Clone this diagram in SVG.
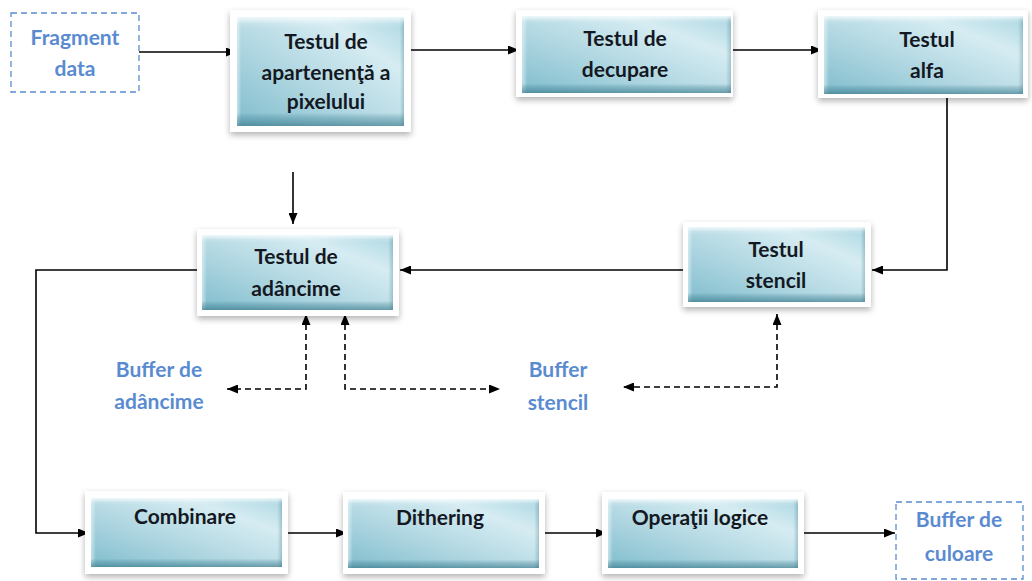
<svg xmlns="http://www.w3.org/2000/svg" width="1032" height="581" viewBox="0 0 1032 581">
  <defs>
    <linearGradient id="fill" x1="0" y1="1" x2="1" y2="0">
      <stop offset="0" stop-color="#80bdcd"/>
      <stop offset="0.45" stop-color="#b6dae4"/>
      <stop offset="0.75" stop-color="#d6ecf2"/>
      <stop offset="1" stop-color="#acd7e2"/>
    </linearGradient>
    <linearGradient id="bevel" x1="0" y1="0" x2="0" y2="1">
      <stop offset="0" stop-color="#f2fbfd" stop-opacity="0.9"/>
      <stop offset="0.06" stop-color="#ffffff" stop-opacity="0.15"/>
      <stop offset="0.1" stop-color="#ffffff" stop-opacity="0"/>
      <stop offset="0.88" stop-color="#2d6e80" stop-opacity="0"/>
      <stop offset="0.93" stop-color="#3f8093" stop-opacity="0.35"/>
      <stop offset="1" stop-color="#2f6f80" stop-opacity="0.6"/>
    </linearGradient>
    <linearGradient id="sides" x1="0" y1="0" x2="1" y2="0">
      <stop offset="0" stop-color="#e8f6fa" stop-opacity="0.6"/>
      <stop offset="0.025" stop-color="#ffffff" stop-opacity="0"/>
      <stop offset="0.975" stop-color="#2f6f80" stop-opacity="0"/>
      <stop offset="1" stop-color="#2f6f80" stop-opacity="0.3"/>
    </linearGradient>
    <filter id="shadow" x="-10%" y="-10%" width="120%" height="130%">
      <feDropShadow dx="0" dy="3" stdDeviation="3" flood-color="#000" flood-opacity="0.3"/>
    </filter>
    <marker id="arrow" viewBox="0 0 11 9" refX="11" refY="4.5" markerWidth="11" markerHeight="9" markerUnits="userSpaceOnUse" orient="auto-start-reverse">
      <path d="M0,0 L11,4.5 L0,9 z" fill="#000"/>
    </marker>
  </defs>
  <style>
    .frame { fill: #ffffff; filter: url(#shadow); }
    .face { fill: url(#fill); }
    .bev { fill: url(#bevel); }
    .side { fill: url(#sides); }
    .label { font-family: Lato, "Liberation Sans", sans-serif; font-weight: bold; font-size: 21px; fill: #141822; text-anchor: middle; }
    .buf { font-family: Lato, "Liberation Sans", sans-serif; font-weight: bold; font-size: 21px; fill: #5a8bd1; text-anchor: middle; }
    .ext { fill: #ffffff; stroke: #5a8bd1; stroke-width: 1.3; stroke-dasharray: 6 4; }
    .flow { fill: none; stroke: #000; stroke-width: 1.6; }
    .dash { fill: none; stroke: #000; stroke-width: 1.6; stroke-dasharray: 6 4; }
  </style>

  <!-- connectors -->
  <g id="connectors">
    <path class="flow" d="M139,52 H237" marker-end="url(#arrow)"/>
    <path class="flow" d="M411,50 H519" marker-end="url(#arrow)"/>
    <path class="flow" d="M733,50 H822" marker-end="url(#arrow)"/>
    <path class="flow" d="M947,98 V270 H872" marker-end="url(#arrow)"/>
    <path class="flow" d="M683,270 H400" marker-end="url(#arrow)"/>
    <path class="flow" d="M293,172 V224" marker-end="url(#arrow)"/>
    <path class="flow" d="M199,270 H36 V533 H89" marker-end="url(#arrow)"/>
    <path class="flow" d="M288,533 H347" marker-end="url(#arrow)"/>
    <path class="flow" d="M545,533 H607" marker-end="url(#arrow)"/>
    <path class="flow" d="M804,533 H895" marker-end="url(#arrow)"/>
    <path class="dash" d="M306,314 V389 H227" marker-start="url(#arrow)" marker-end="url(#arrow)"/>
    <path class="dash" d="M345,314 V389 H500" marker-start="url(#arrow)" marker-end="url(#arrow)"/>
    <path class="dash" d="M777,314 V387 H623" marker-start="url(#arrow)" marker-end="url(#arrow)"/>
  </g>

  <!-- external data -->
  <g id="fragment-data">
    <rect class="ext" x="11" y="13" width="128" height="79"/>
    <text class="buf" x="75" y="45">Fragment</text>
    <text class="buf" x="75" y="76">data</text>
  </g>

  <g id="buffer-culoare">
    <rect class="ext" x="896" y="502" width="127" height="77"/>
    <text class="buf" x="959" y="527">Buffer de</text>
    <text class="buf" x="959" y="561">culoare</text>
  </g>

  <g id="buffer-adancime">
    <text class="buf" x="159" y="377">Buffer de</text>
    <text class="buf" x="159" y="409">adâncime</text>
  </g>

  <g id="buffer-stencil">
    <text class="buf" x="558" y="377">Buffer</text>
    <text class="buf" x="558" y="410">stencil</text>
  </g>

  <!-- processing stages -->
  <g id="test-apartenenta">
    <rect class="frame" x="230" y="10" width="181" height="122"/>
    <rect class="face" x="237" y="17" width="167" height="109"/>
    <rect class="side" x="237" y="17" width="167" height="109"/>
    <rect class="bev" x="237" y="17" width="167" height="109"/>
    <text class="label" x="326" y="49">Testul de</text>
    <text class="label" x="326" y="80">apartenenţă a</text>
    <text class="label" x="326" y="109">pixelului</text>
  </g>

  <g id="test-decupare">
    <rect class="frame" x="516" y="10" width="217" height="87"/>
    <rect class="face" x="522" y="16" width="209" height="77"/>
    <rect class="side" x="522" y="16" width="209" height="77"/>
    <rect class="bev" x="522" y="16" width="209" height="77"/>
    <text class="label" x="625" y="46">Testul de</text>
    <text class="label" x="625" y="77">decupare</text>
  </g>

  <g id="test-alfa">
    <rect class="frame" x="818" y="10" width="210" height="88"/>
    <rect class="face" x="824" y="16" width="199" height="78"/>
    <rect class="side" x="824" y="16" width="199" height="78"/>
    <rect class="bev" x="824" y="16" width="199" height="78"/>
    <text class="label" x="927" y="47">Testul</text>
    <text class="label" x="927" y="78">alfa</text>
  </g>

  <g id="test-stencil">
    <rect class="frame" x="683" y="222" width="188" height="85"/>
    <rect class="face" x="688" y="227" width="177" height="75"/>
    <rect class="side" x="688" y="227" width="177" height="75"/>
    <rect class="bev" x="688" y="227" width="177" height="75"/>
    <text class="label" x="776" y="257">Testul</text>
    <text class="label" x="776" y="288">stencil</text>
  </g>

  <g id="test-adancime">
    <rect class="frame" x="197" y="229" width="202" height="87"/>
    <rect class="face" x="202" y="235" width="191" height="75"/>
    <rect class="side" x="202" y="235" width="191" height="75"/>
    <rect class="bev" x="202" y="235" width="191" height="75"/>
    <text class="label" x="296" y="264">Testul de</text>
    <text class="label" x="296" y="296">adâncime</text>
  </g>

  <g id="combinare">
    <rect class="frame" x="85" y="491" width="203" height="83"/>
    <rect class="face" x="91" y="498" width="191" height="69"/>
    <rect class="side" x="91" y="498" width="191" height="69"/>
    <rect class="bev" x="91" y="498" width="191" height="69"/>
    <text class="label" x="185" y="524">Combinare</text>
  </g>

  <g id="dithering">
    <rect class="frame" x="343" y="492" width="202" height="82"/>
    <rect class="face" x="348" y="499" width="191" height="69"/>
    <rect class="side" x="348" y="499" width="191" height="69"/>
    <rect class="bev" x="348" y="499" width="191" height="69"/>
    <text class="label" x="440" y="525">Dithering</text>
  </g>

  <g id="operatii-logice">
    <rect class="frame" x="602" y="492" width="202" height="82"/>
    <rect class="face" x="608" y="499" width="190" height="69"/>
    <rect class="side" x="608" y="499" width="190" height="69"/>
    <rect class="bev" x="608" y="499" width="190" height="69"/>
    <text class="label" x="700" y="525">Operaţii logice</text>
  </g>
</svg>
